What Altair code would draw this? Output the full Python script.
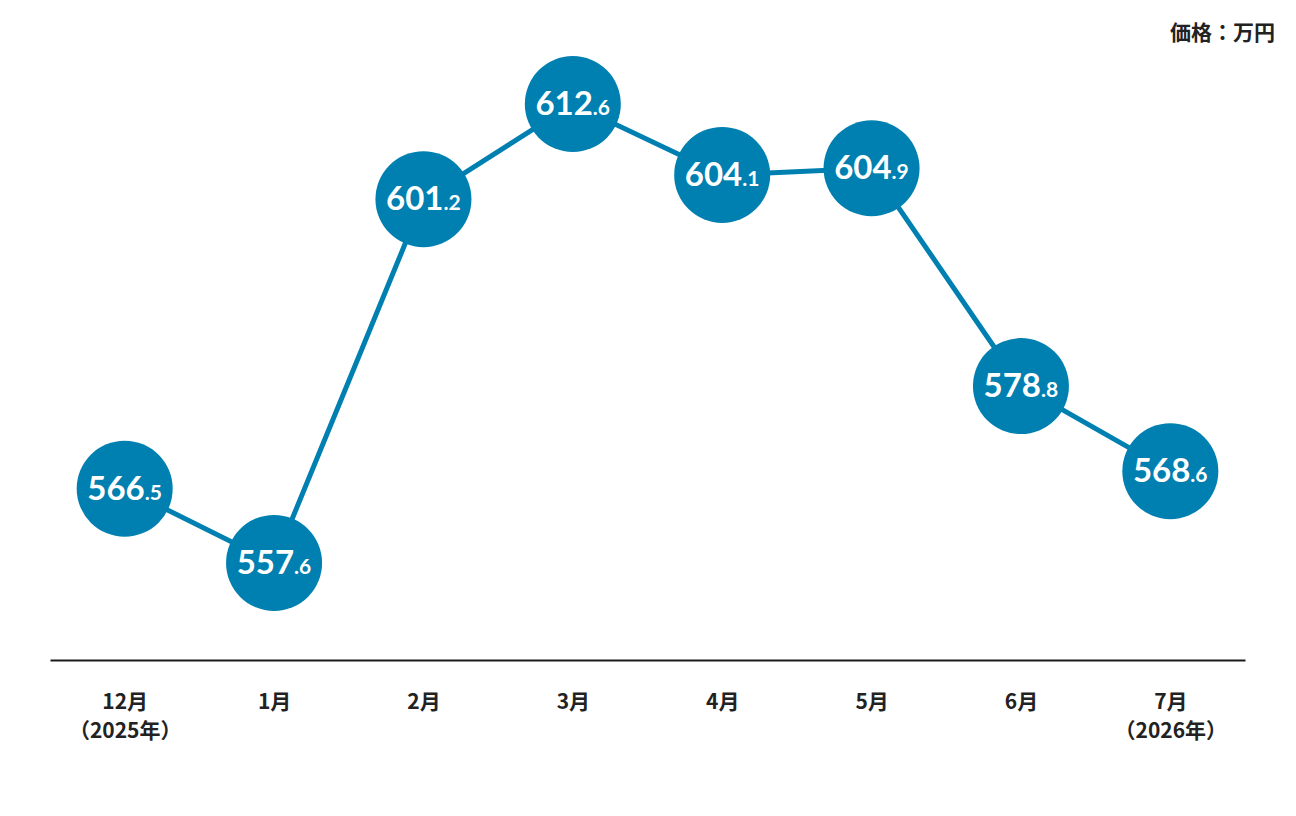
import altair as alt
import pandas as pd

months = ["12月\n（2025年）", "1月", "2月", "3月", "4月", "5月", "6月", "7月\n（2026年）"]
prices = [566.5, 557.6, 601.2, 612.6, 604.1, 604.9, 578.8, 568.6]
int_parts = ["566", "557", "601", "612", "604", "604", "578", "568"]
dec_parts = [".5", ".6", ".2", ".6", ".1", ".9", ".8", ".6"]

df = pd.DataFrame({"month": months, "price": prices, "ip": int_parts, "dp": dec_parts})

BLUE = "#0080B1"
x = alt.X("month:N", sort=months, scale=alt.Scale(paddingInner=0, paddingOuter=0),
          axis=alt.Axis(title=None, labelAngle=0, ticks=False, grid=False,
                        domainColor="#1a1a1a", domainWidth=2,
                        labelExpr="split(datum.label, '\\n')",
                        labelFont="Noto Sans CJK JP", labelFontWeight="bold",
                        labelFontSize=21, labelColor="#222222", labelPadding=31,
                        labelLineHeight=29))
y = alt.Y("price:Q", scale=alt.Scale(domain=[545.97, 620.27], nice=False, zero=False),
          axis=None)

base = alt.Chart(df).encode(x=x, y=y)
line = base.mark_line(color=BLUE, strokeWidth=5)
dots = base.mark_circle(color=BLUE, opacity=1, size=9216)
t_int = base.mark_text(color="white", font="Lato", fontWeight="bold", fontSize=33,
                       align="right", baseline="alphabetic", dx=20, dy=11).encode(text="ip:N")
t_dec = base.mark_text(color="white", font="Lato", fontWeight="bold", fontSize=21,
                       align="left", baseline="alphabetic", dx=20, dy=11).encode(text="dp:N")

chart = alt.layer(line, dots, t_int, t_dec).properties(
    width=1195, height=620,
    autosize=alt.AutoSizeParams(type="none"),
    padding={"left": 42, "top": 32, "right": 40, "bottom": 100},
    title=alt.TitleParams("価格：万円", anchor="end", font="Noto Sans CJK JP",
                          fontWeight="bold", fontSize=21, color="#222222", dx=30, offset=-4),
).configure_view(stroke=None)

chart.save("out.html", embed_options={"renderer": "svg", "actions": False})
